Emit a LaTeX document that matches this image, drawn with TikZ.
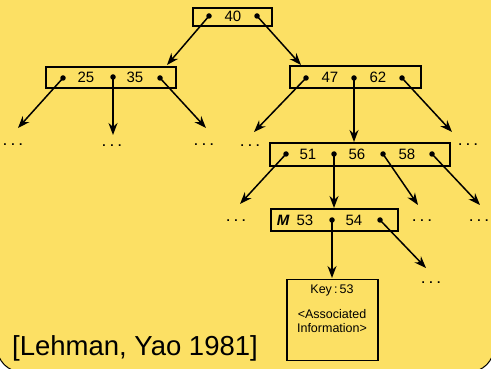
\documentclass[tikz,border=0pt]{standalone}
\usepackage{fontspec}
\setmainfont{Liberation Sans}
\usetikzlibrary{arrows.meta}
\definecolor{bgy}{RGB}{252,224,100}
\tikzset{
  x=1pt, y=-1pt,
  box/.style={draw, line width=1.6pt, inner sep=0pt},
  dot/.style={circle, fill, inner sep=0pt, minimum size=5.5pt},
  num/.style={font=\fontsize{15}{15}\selectfont, inner sep=0pt},
  arr/.style={line width=1.5pt, -{Stealth[length=12pt,width=9pt]}},
  ell/.style={font=\fontsize{12}{12}\selectfont\bfseries, inner sep=0pt},
  rec/.style={font=\fontsize{12.5}{12.5}\selectfont, inner sep=0pt}
}
\newcommand{\tdots}{.\hspace{4.5pt}.\hspace{4.5pt}.}
\begin{document}
\begin{tikzpicture}
\useasboundingbox (0,0) rectangle (491,369);
\fill[white] (0,0) rectangle (491,369);
\begin{scope}
\clip (0,0) rectangle (491,369);
\draw[fill=bgy, line width=1pt, rounded corners=25pt] (-3,-40) rectangle (494,372);
\end{scope}

% boxes
\node[box, minimum width=79pt, minimum height=18pt] (root) at (232.5,17) {};
\node[box, minimum width=130pt, minimum height=21pt] (la) at (111,77.5) {};
\node[box, minimum width=131pt, minimum height=22pt] (lb) at (355.5,77) {};
\node[box, minimum width=180pt, minimum height=23pt] (lc) at (360,154.5) {};
\node[box, minimum width=127pt, minimum height=22pt] (ld) at (334.5,220) {};
\node[box, minimum width=91pt, minimum height=81pt] (rec) at (332.5,320) {};

% texts
\node[num] (t40) at (233,16) {40};
\node[num] (t25) at (86,77) {25};
\node[num] (t35) at (135,77) {35};
\node[num] (t47) at (330,77) {47};
\node[num] (t62) at (378,77) {62};
\node[num] (t51) at (308,154) {51};
\node[num] (t56) at (357,154) {56};
\node[num] (t58) at (407,154) {58};
\node[num, font=\fontsize{15}{15}\selectfont\bfseries\itshape] (tm) at (283,220) {M};
\node[num] (t53) at (305,220) {53};
\node[num] (t54) at (354,220) {54};
\node[rec] (key) at (332,290) {Key\,:\,53};
\node[rec, align=center] (info) at (332,321) {<Associated\\[1pt]Information>};

% dots
\node[dot] (r1) at (209,16) {};
\node[dot] (r2) at (257,16) {};
\node[dot] (a1) at (63,78) {};
\node[dot] (a2) at (113,77) {};
\node[dot] (a3) at (160,78) {};
\node[dot] (b1) at (306,78) {};
\node[dot] (b2) at (354,78) {};
\node[dot] (b3) at (402,78) {};
\node[dot] (c1) at (286,154) {};
\node[dot] (c2) at (334,154) {};
\node[dot] (c3) at (383,154) {};
\node[dot] (c4) at (432,154) {};
\node[dot] (d1) at (332,220) {};
\node[dot] (d2) at (380,220) {};

% ellipses
\node[ell] (e1) at (13,145) {\tdots};
\node[ell] (e2) at (112,146) {\tdots};
\node[ell] (e3) at (204,145) {\tdots};
\node[ell] (e4) at (250,146) {\tdots};
\node[ell] (e5) at (468,145) {\tdots};
\node[ell] (e6) at (236,221) {\tdots};
\node[ell] (e7) at (422,221) {\tdots};
\node[ell] (e8) at (479,221) {\tdots};
\node[ell] (e9) at (431,283) {\tdots};

% arrow ends
\coordinate (pr1) at (167,65);
\coordinate (pr2) at (301,65);
\coordinate (pa1) at (18,128);
\coordinate (pa2) at (113,135);
\coordinate (pa3) at (206,128);
\coordinate (pb1) at (254,132);
\coordinate (pb2) at (354,142);
\coordinate (pb3) at (452,132);
\coordinate (pc1) at (240,204);
\coordinate (pc2) at (334,208);
\coordinate (pc3) at (418,205);
\coordinate (pc4) at (480,205);
\coordinate (pd1) at (332,278);
\coordinate (pd2) at (426,268);

\foreach \s/\t in {r1/pr1, r2/pr2, a1/pa1, a2/pa2, a3/pa3, b1/pb1, b2/pb2, b3/pb3, c1/pc1, c2/pc2, c3/pc3, c4/pc4, d1/pd1, d2/pd2}
  \draw[arr] (\s.center) -- (\t);

% citation
\node[anchor=base west, inner sep=0pt, font=\fontsize{27.5}{27.5}\selectfont] (cite) at (12,355) {[Lehman, Yao 1981]};
\end{tikzpicture}
\end{document}
